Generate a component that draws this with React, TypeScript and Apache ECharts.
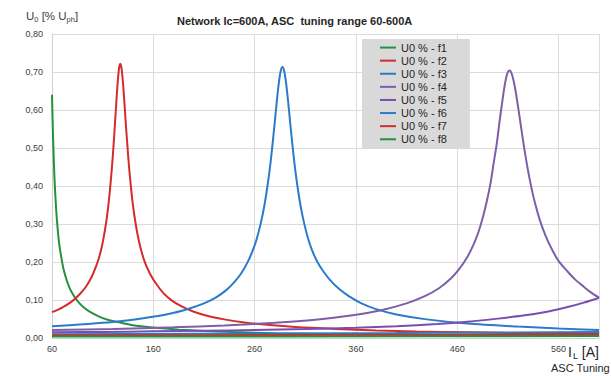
import React, { useEffect, useRef } from "react";
import * as echarts from "echarts";

const seriesNames = [
  "U0 % - f1",
  "U0 % - f2",
  "U0 % - f3",
  "U0 % - f4",
  "U0 % - f5",
  "U0 % - f6",
  "U0 % - f7",
  "U0 % - f8",
];
const seriesColors = ["#23913d", "#d42c2c", "#2b7bca", "#7d5fa7", "#7a4db2", "#2b7bca", "#d42c2c", "#23913d"];

const f1X = [60, 60.7, 61.5, 62.3, 63.2, 64.2, 65.5, 67, 69, 71.5, 74.5, 78, 82, 86.5, 92, 98, 106, 115, 125, 137, 150, 165, 185, 210, 240, 280, 330, 390, 460, 530, 600];
const f1Y = [0.64, 0.56, 0.49, 0.43, 0.38, 0.335, 0.29, 0.25, 0.215, 0.18, 0.152, 0.128, 0.109, 0.093, 0.079, 0.068, 0.057, 0.048, 0.042, 0.035, 0.03, 0.026, 0.022, 0.0185, 0.0155, 0.0128, 0.0105, 0.0086, 0.0071, 0.006, 0.0053];

const f2X = [60, 70, 80, 88, 94, 99, 103, 106, 109, 111.5, 113.5, 115.5, 117, 118.5, 120, 121.5, 123, 124.5, 126, 127.3, 128.6, 130, 131.5, 133, 134.5, 136, 138, 140, 142.5, 145, 148, 152, 157, 163, 170, 178, 188, 200, 215, 230, 250, 275, 300, 340, 380, 420, 470, 530, 600];
const f2Y = [0.068, 0.08, 0.097, 0.117, 0.137, 0.16, 0.185, 0.208, 0.238, 0.272, 0.305, 0.346, 0.384, 0.428, 0.478, 0.536, 0.6, 0.66, 0.706, 0.722, 0.71, 0.674, 0.619, 0.559, 0.504, 0.452, 0.395, 0.348, 0.302, 0.265, 0.231, 0.197, 0.168, 0.142, 0.118, 0.099, 0.083, 0.069, 0.057, 0.049, 0.041, 0.034, 0.029, 0.024, 0.02, 0.017, 0.015, 0.0126, 0.0107];

const f3X = [60, 90, 120, 150, 175, 195, 210, 222, 232, 240, 247, 253, 258, 262, 266, 269.5, 272.5, 275, 277.5, 280, 282, 284, 286, 287.5, 289, 291, 293, 295, 297.5, 300, 302.5, 305.5, 309, 313, 317, 322, 328, 335, 343, 353, 365, 380, 400, 430, 470, 520, 560, 600];
const f3Y = [0.031, 0.036, 0.042, 0.052, 0.063, 0.077, 0.091, 0.107, 0.126, 0.147, 0.171, 0.199, 0.229, 0.26, 0.301, 0.346, 0.396, 0.445, 0.504, 0.57, 0.625, 0.673, 0.705, 0.713, 0.705, 0.673, 0.625, 0.57, 0.504, 0.445, 0.396, 0.346, 0.301, 0.26, 0.229, 0.2, 0.175, 0.151, 0.13, 0.11, 0.092, 0.076, 0.062, 0.049, 0.038, 0.03, 0.025, 0.021];

const f4X = [60, 120, 180, 230, 280, 320, 355, 385, 410, 428, 442, 454, 463, 470, 476, 481, 485.5, 489.5, 493, 496, 499, 501.5, 504, 506.5, 509, 511.5, 514, 517, 520, 523, 526, 529.5, 533, 537, 541.5, 547, 553, 560, 568, 576, 584.5, 592, 600];
const f4Y = [0.021, 0.024, 0.028, 0.033, 0.04, 0.048, 0.059, 0.073, 0.091, 0.11, 0.131, 0.157, 0.185, 0.213, 0.245, 0.279, 0.319, 0.363, 0.409, 0.46, 0.51, 0.563, 0.612, 0.658, 0.692, 0.704, 0.694, 0.66, 0.61, 0.556, 0.503, 0.447, 0.399, 0.353, 0.311, 0.271, 0.236, 0.203, 0.178, 0.155, 0.136, 0.12, 0.106];

const f5X = [60, 110, 160, 210, 260, 310, 360, 400, 440, 470, 500, 525, 550, 570, 585, 600];
const f5Y = [0.015, 0.016, 0.0175, 0.019, 0.021, 0.0235, 0.027, 0.031, 0.037, 0.043, 0.051, 0.059, 0.07, 0.082, 0.093, 0.106];

const f6X = [60, 200, 400, 600];
const f6Y = [0.01, 0.011, 0.013, 0.016];

const f7X = [60, 300, 600];
const f7Y = [0.007, 0.008, 0.01];

const f8X = [60, 300, 600];
const f8Y = [0.004, 0.004, 0.005];

const seriesX = [f1X, f2X, f3X, f4X, f5X, f6X, f7X, f8X];
const seriesY = [f1Y, f2Y, f3Y, f4Y, f5Y, f6Y, f7Y, f8Y];

const titleText = "Network Ic=600A, ASC  tuning range 60-600A";

const FONT = "Liberation Sans, Arial, sans-serif";

export default function App() {
  const ref = useRef<HTMLDivElement>(null);
  useEffect(() => {
    if (!ref.current) return;
    const chart = echarts.init(ref.current, null, { renderer: "svg" });
    const series = seriesNames.map((name, i) => ({
      name,
      type: "line",
      data: seriesX[i].map((x, j) => [x, seriesY[i][j]]),
      showSymbol: false,
      smooth: 0.3,
      lineStyle: { width: 2, color: seriesColors[i] },
      itemStyle: { color: seriesColors[i] },
      emphasis: { disabled: true },
      z: 2 + i,
    }));
    chart.setOption({
      animation: false,
      backgroundColor: "#ffffff",
      title: {
        text: titleText,
        left: 172,
        top: 10,
        textStyle: { fontFamily: FONT, fontSize: 11, fontWeight: "bold", color: "#262626" },
      },
      legend: {
        data: seriesNames,
        orient: "vertical",
        left: 362,
        top: 39,
        width: 108,
        backgroundColor: "#d9d9d9",
        padding: [2, 23, 3, 18],
        itemGap: 0,
        itemWidth: 16,
        itemHeight: 2,
        icon: "rect",
        selectedMode: false,
        textStyle: { fontFamily: FONT, fontSize: 11, color: "#262626", lineHeight: 13.1 },
      },
      grid: { left: 52, right: 12, top: 34, bottom: 38, containLabel: false },
      xAxis: {
        type: "value",
        min: 60,
        max: 600,
        interval: 100,
        axisLine: { show: true, lineStyle: { color: "#d0d0d0", width: 1 } },
        axisTick: { show: false },
        splitLine: { show: true, lineStyle: { color: "#dcdcdc", width: 1 } },
        axisLabel: {
          showMaxLabel: false,
          margin: 6,
          fontFamily: FONT,
          fontSize: 9,
          color: "#404040",
        },
      },
      yAxis: {
        type: "value",
        min: 0,
        max: 0.8,
        interval: 0.1,
        axisLine: { show: true, lineStyle: { color: "#d0d0d0", width: 1 } },
        axisTick: { show: false },
        splitLine: { show: true, lineStyle: { color: "#dcdcdc", width: 1 } },
        axisLabel: {
          margin: 9,
          fontFamily: FONT,
          fontSize: 9,
          color: "#404040",
          formatter: (v: number) => v.toFixed(2).replace(".", ","),
        },
      },
      graphic: [
        {
          type: "text",
          left: 26,
          top: 10,
          style: {
            text: "{a|U}{s|0}{a| [% U}{s|ph}{a|]}",
            rich: {
              a: { fontFamily: FONT, fontSize: 11.5, fill: "#404040", lineHeight: 15, verticalAlign: "middle" },
              s: { fontFamily: FONT, fontSize: 7.5, fill: "#404040", lineHeight: 9, verticalAlign: "bottom" },
            },
          },
        },
        {
          type: "text",
          left: 568,
          top: 345,
          style: {
            text: "{a|I}{s|L}{a| [A]}",
            rich: {
              a: { fontFamily: FONT, fontSize: 14, fill: "#262626", lineHeight: 17, verticalAlign: "middle", padding: [0, 1, 0, 0] },
              s: { fontFamily: FONT, fontSize: 9, fill: "#262626", lineHeight: 10, verticalAlign: "bottom" },
            },
          },
        },
        {
          type: "text",
          left: 551,
          top: 362,
          style: {
            text: "ASC Tuning",
            fontFamily: FONT,
            fontSize: 11,
            fill: "#262626",
          },
        },
      ],
      series,
    });
    return () => chart.dispose();
  }, []);
  return <div ref={ref} style={{ position: "fixed", left: 0, top: 0, width: 611, height: 376 }} />;
}
